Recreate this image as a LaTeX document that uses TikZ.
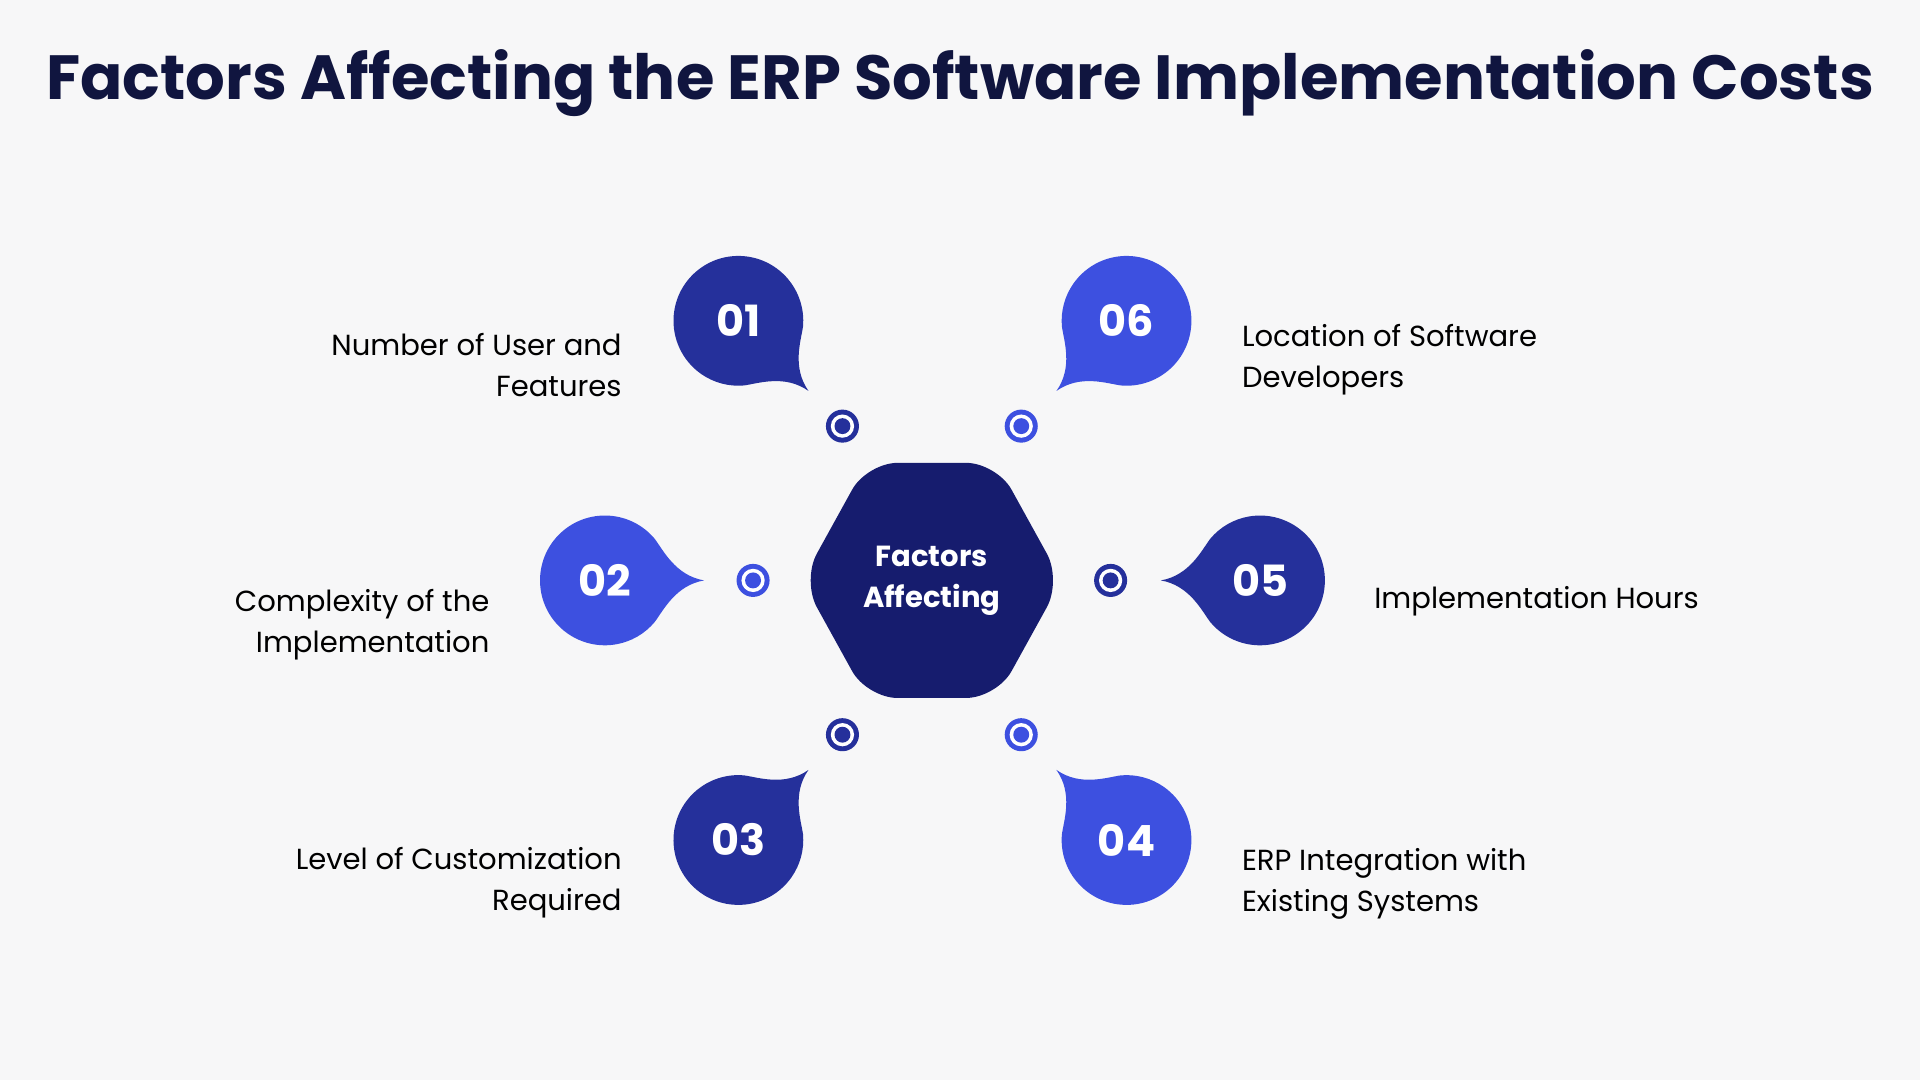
\documentclass[tikz,border=0pt]{standalone}
\usepackage{fontspec}
\setmainfont{Poppins}
\definecolor{bg}{HTML}{F7F7F8}
\definecolor{navy}{HTML}{161C6E}
\definecolor{dk}{HTML}{25309B}
\definecolor{br}{HTML}{3D50E0}
\definecolor{ttl}{HTML}{10153F}
\tikzset{
  lbl/.style={font=\fontsize{13.5}{19}\selectfont, text=black, inner sep=0pt},
  num/.style={font=\fontsize{20}{20}\selectfont\bfseries, text=white},
}
\newcommand{\bubble}[6]{%
  \begin{scope}[shift={(#2,#3)}, rotate=#4]
    \fill[#5] (1.62cm,0) .. controls (1.15cm,0.08cm) and (0.95cm,0.5cm) .. (40:1.06cm)
      arc[start angle=40, end angle=320, radius=1.06cm]
      .. controls (0.95cm,-0.5cm) and (1.15cm,-0.08cm) .. cycle;
  \end{scope}
  \node[num] (#1) at (#2,#3) {#6};
}
\newcommand{\target}[4]{%
  \node[circle, fill=#4, minimum size=0.54cm, inner sep=0pt] (#1) at (#2,#3) {};
  \node[circle, fill=white, minimum size=0.38cm, inner sep=0pt] at (#1) {};
  \node[circle, fill=#4, minimum size=0.26cm, inner sep=0pt] at (#1) {};
}
\begin{document}
\begin{tikzpicture}[x=0.02cm, y=-0.02cm]
\fill[bg] (0,0) rectangle (1568,882);
\useasboundingbox (0,0) rectangle (1568,882);
\node[font=\fontsize{29}{34}\selectfont\bfseries, text=ttl] (title) at (784,68) {Factors Affecting the ERP Software Implementation Costs};
% hexagon
\fill[navy, rounded corners=0.5cm] (655,474) -- (708,378) -- (814,378) -- (867,474) -- (814,570) -- (708,570) -- cycle;
\node[align=center, text=white, font=\fontsize{13.5}{19}\selectfont\bfseries] (hex) at (761,474) {Factors\\Affecting};
% bubbles
\bubble{b1}{603}{262}{-45}{dk}{01}
\bubble{b6}{920}{262}{-135}{br}{06}
\bubble{b2}{494}{474}{0}{br}{02}
\bubble{b5}{1029}{474}{180}{dk}{05}
\bubble{b3}{603}{686}{45}{dk}{03}
\bubble{b4}{920}{686}{135}{br}{04}
% targets
\target{t1}{688}{348}{dk}
\target{t6}{834}{348}{br}
\target{t2}{615}{474}{br}
\target{t5}{907}{474}{dk}
\target{t3}{688}{600}{dk}
\target{t4}{834}{600}{br}
% labels
\node[lbl, align=right, anchor=east] (l1) at (508,298) {Number of User and\\Features};
\node[lbl, align=right, anchor=east] (l2) at (400,510) {Complexity of the\\Implementation};
\node[lbl, align=right, anchor=east] (l3) at (508,721) {Level of Customization\\Required};
\node[lbl, align=left, anchor=west] (l6) at (1014,294) {Location of Software\\Developers};
\node[lbl, align=left, anchor=west] (l5) at (1122,491) {Implementation Hours};
\node[lbl, align=left, anchor=west] (l4) at (1014,722) {ERP Integration with\\Existing Systems};
\end{tikzpicture}
\end{document}
